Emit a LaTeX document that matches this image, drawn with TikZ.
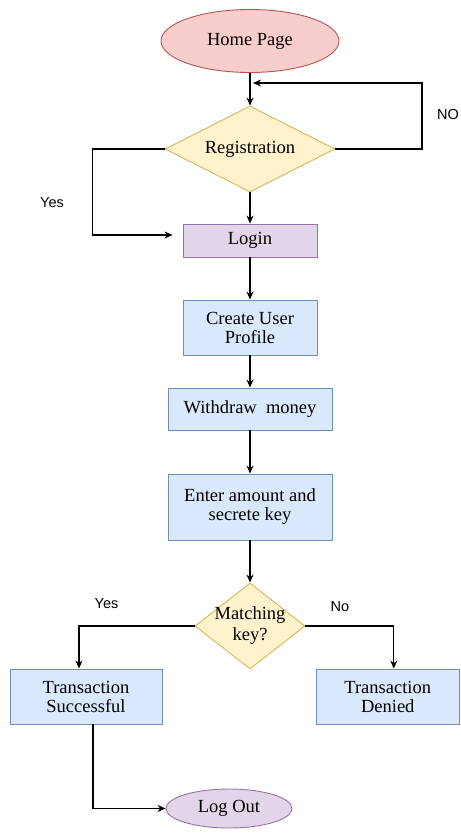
\documentclass[tikz,border=0pt]{standalone}
\usepackage{fontspec}
\setmainfont{Liberation Serif}
\newfontfamily\labelfont{Liberation Sans}
\usetikzlibrary{shapes.geometric,arrows.meta}
\definecolor{redfill}{HTML}{F8CECC}
\definecolor{redline}{HTML}{B85450}
\definecolor{yelfill}{HTML}{FFF2CC}
\definecolor{yelline}{HTML}{D6B656}
\definecolor{purfill}{HTML}{E1D5E7}
\definecolor{purline}{HTML}{9673A6}
\definecolor{blufill}{HTML}{DAE8FC}
\definecolor{bluline}{HTML}{6C8EBF}
\begin{document}
\begin{tikzpicture}[x=1pt,y=-1pt,
  font=\fontsize{18.5}{19}\selectfont,
  base/.style={inner sep=0pt, align=center, line width=0.9pt},
  redoval/.style={base, ellipse, fill=redfill, draw=redline},
  puroval/.style={base, ellipse, fill=purfill, draw=purline},
  decision/.style={base, diamond, fill=yelfill, draw=yelline},
  purbox/.style={base, rectangle, fill=purfill, draw=purline},
  blubox/.style={base, rectangle, fill=blufill, draw=bluline},
  arr/.style={-{Stealth[length=8pt,width=7pt]}, line width=1.1pt, black},
  lbl/.style={font=\labelfont\fontsize{14.5}{16}\selectfont, inner sep=0pt}]
\useasboundingbox (0,0) rectangle (460,834);
\fill[white] (0,0) rectangle (460,834);

\node[redoval, minimum width=178pt, minimum height=63pt] (home) at (250,41) {Home Page};
\node[decision, aspect=1.98, minimum width=170pt, minimum height=86pt] (reg) at (250,149) {Registration};
\node[purbox, minimum width=134pt, minimum height=33pt] (login) at (250,240.5) {Login};
\node[blubox, minimum width=134pt, minimum height=55pt] (profile) at (250,327.5) {Create User\\Profile};
\node[blubox, minimum width=164pt, minimum height=42pt] (withdraw) at (250,409) {Withdraw\ \ money};
\node[blubox, minimum width=164pt, minimum height=66pt] (enter) at (250,507) {Enter amount and\\secrete key};
\node[decision, aspect=1.28, minimum width=110pt, minimum height=86pt] (match) at (250,626)
  {\makebox[40pt]{\fontsize{18.5}{21}\selectfont\begin{tabular}{@{}c@{}}Matching\\key?\end{tabular}}};
\node[blubox, minimum width=152pt, minimum height=55pt] (succ) at (86,696.5) {Transaction\\Successful};
\node[blubox, minimum width=143pt, minimum height=55pt] (den) at (387.75,696.5) {Transaction\\Denied};
\node[puroval, minimum width=126pt, minimum height=39pt] (logout) at (229,808.5) {Log Out};

\node[lbl] (nolbl) at (448,115) {NO};
\node[lbl] (yes1) at (52,203) {Yes};
\node[lbl] (yes2) at (106.5,604) {Yes};
\node[lbl] (no2) at (340,607) {No};

\coordinate (nocorner) at (422,83);
\coordinate (noend) at (253,83);

\draw[arr] (home) -- (reg);
\draw[arr] (reg.east) -| (nocorner) -- (noend);
\draw[arr, shorten >=10pt] (reg.west) -- ++(-72,0) |- ([yshift=5.5pt]login.west);
\draw[arr] (reg) -- (login);
\draw[arr] (login) -- (profile);
\draw[arr] (profile) -- (withdraw);
\draw[arr] (withdraw) -- (enter);
\draw[arr] (enter) -- (match);
\draw[arr] (match.west) -| ([xshift=-7pt]succ.north);
\draw[arr] (match.east) -| ([xshift=6pt]den.north);
\draw[arr] ([xshift=7pt]succ.south) |- (logout.west);
\end{tikzpicture}
\end{document}
